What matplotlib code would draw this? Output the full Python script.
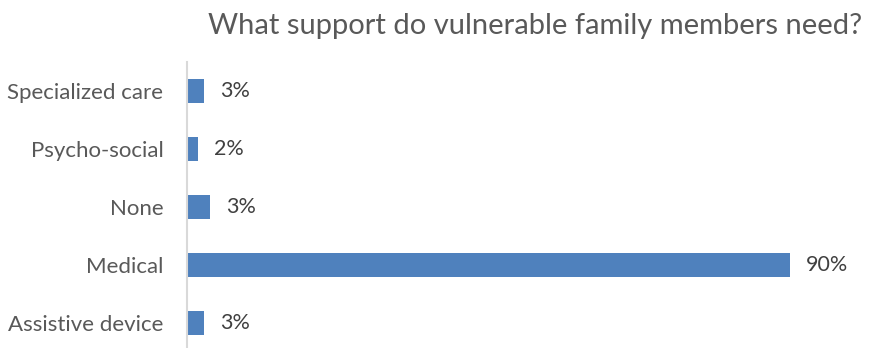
import matplotlib
matplotlib.use("Agg")
import matplotlib.pyplot as plt

# categories top to bottom as drawn
categories = ["Specialized care", "Psycho-social", "None", "Medical", "Assistive device"]
values = [2.5, 1.6, 3.4, 90.0, 2.5]
value_labels = ["3%", "2%", "3%", "90%", "3%"]

bar_color = "#4f81bd"
text_grey = "#595959"

plt.rcParams["font.family"] = ["Lato", "DejaVu Sans"]

fig = plt.figure(figsize=(8.74, 3.48), dpi=100)
ax = fig.add_axes([187 / 874, 1 - 352 / 348, 670 / 874, 290 / 348])

ypos = list(range(len(categories)))
ax.barh(ypos, values, height=0.4, color=bar_color)
ax.set_ylim(len(categories) - 0.5, -0.5)
ax.set_xlim(0, 100)

for y, v, lab in zip(ypos, values, value_labels):
    ax.annotate(lab, (v, y), xytext=(11.5, 0), textcoords="offset points",
                va="center", ha="left", fontsize=15.5, color="#404040")

ax.set_yticks(ypos)
ax.set_yticklabels(categories, fontsize=16, color=text_grey)
ax.tick_params(axis="y", length=0, pad=17)
ax.set_xticks([])

for s in ["top", "right", "bottom"]:
    ax.spines[s].set_visible(False)
ax.spines["left"].set_color("#d9d9d9")
ax.spines["left"].set_linewidth(1.5)

fig.text(535 / 874, 1 - 26 / 348, "What support do vulnerable family members need?",
         ha="center", va="center", fontsize=21, color=text_grey)

fig.savefig("out.png", dpi=100)
